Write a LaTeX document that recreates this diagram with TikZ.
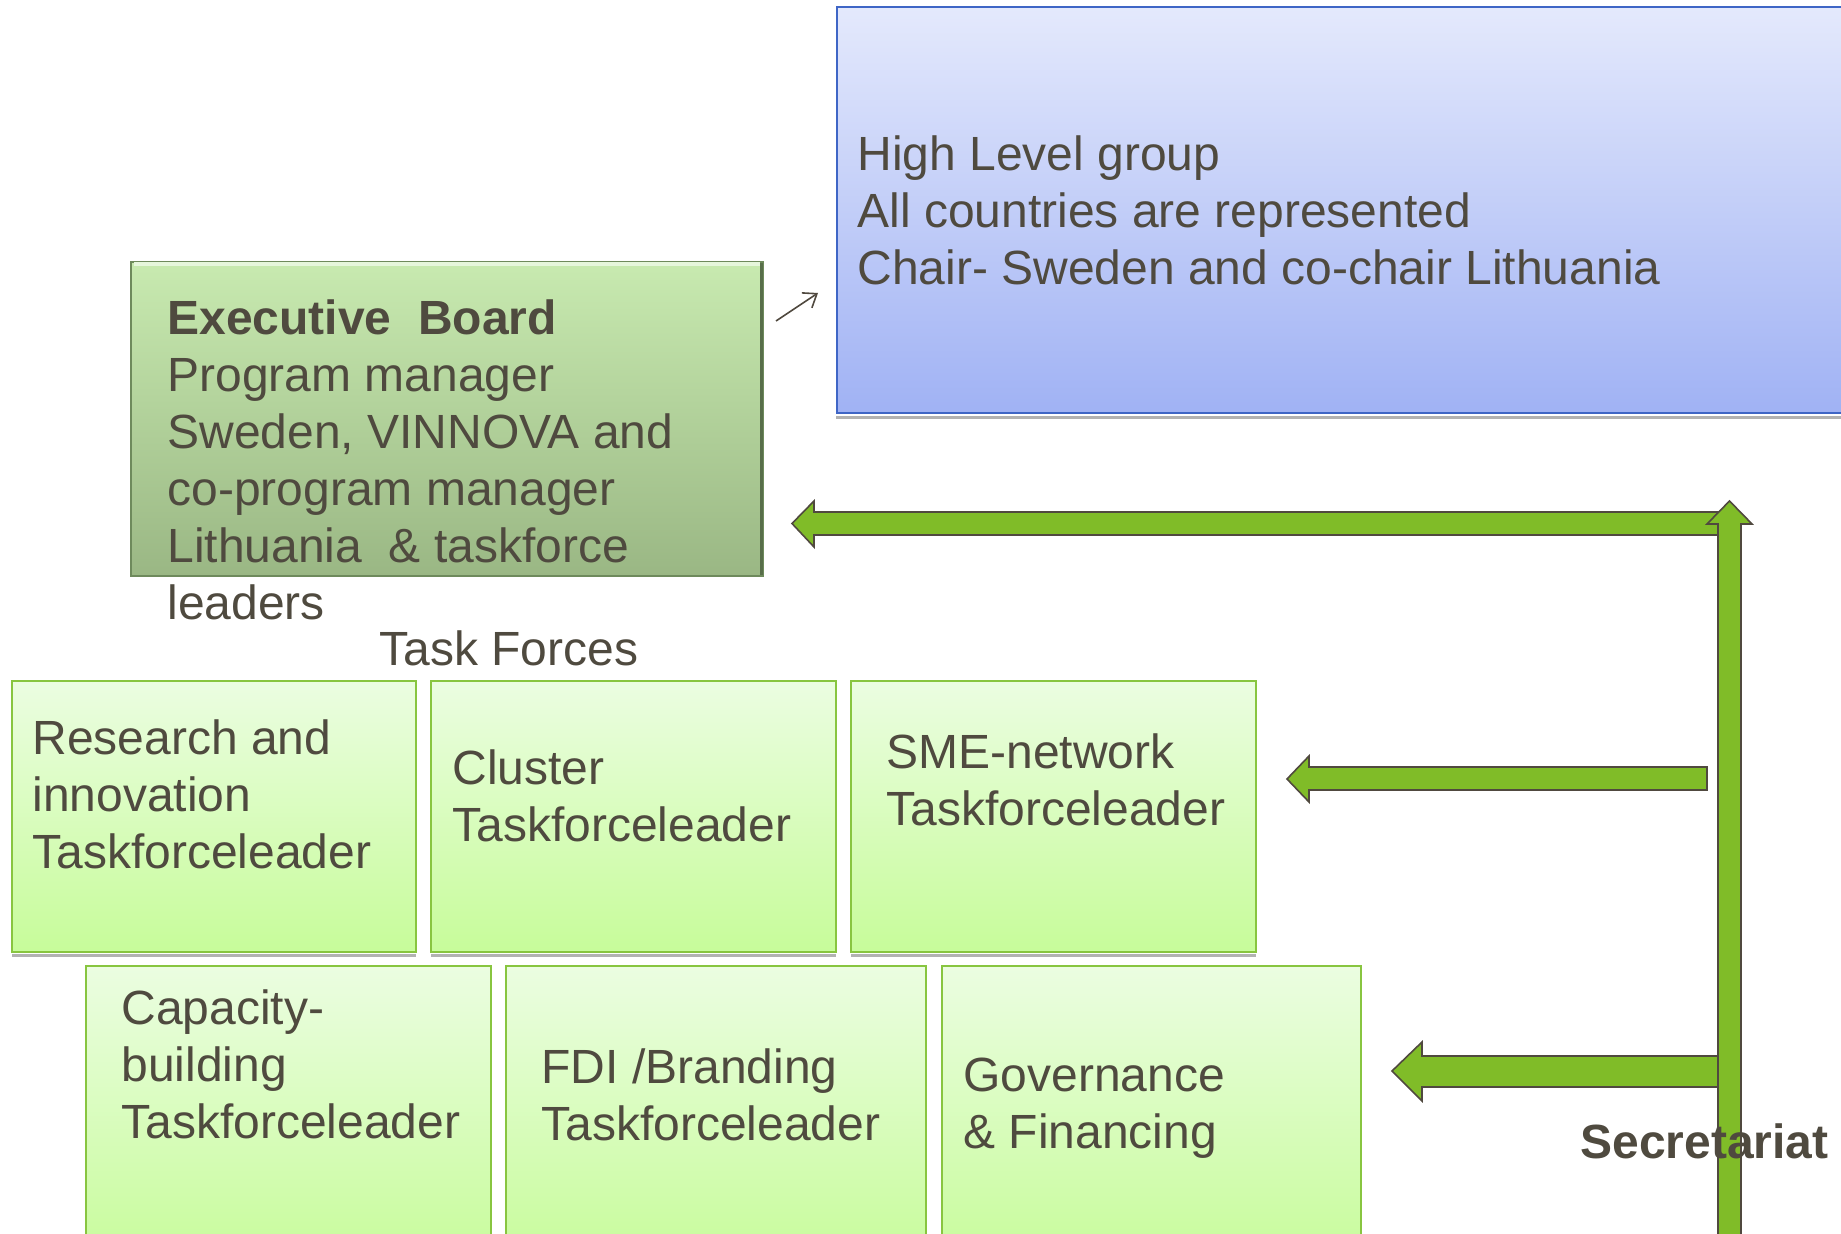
\documentclass[tikz,border=0pt]{standalone}
\usepackage{fontspec}
\usetikzlibrary{arrows.meta}
\setmainfont{Liberation Sans}
\definecolor{scritta}{HTML}{4F4A3F}
\definecolor{tfalto}{HTML}{EBFDE1}
\definecolor{tfbasso}{HTML}{C7FC9A}
\definecolor{tfbordo}{HTML}{88C540}
\definecolor{ebalto}{HTML}{C8EAB0}
\definecolor{ebbasso}{HTML}{9AB784}
\definecolor{ebbordo}{HTML}{6E8A5C}
\definecolor{hlalto}{HTML}{E4E9FC}
\definecolor{hlbasso}{HTML}{A0B2F4}
\definecolor{hlbordo}{HTML}{3F66C6}
\definecolor{freccia}{HTML}{80BC28}
\definecolor{frecciabordo}{HTML}{50493F}
\tikzset{
  tfbox/.style={draw=tfbordo, line width=1pt, top color=tfalto, bottom color=tfbasso,
    minimum height=135.5pt, anchor=north west, inner sep=0pt, outer sep=0pt},
  tfbox2/.style={tfbox, minimum height=150pt},
  testo/.style={anchor=north west, inner sep=0pt, align=left},
  ombra/.style={draw=gray!60, line width=1.4pt},
  blocco/.style={fill=freccia, draw=frecciabordo, line width=0.8pt, line join=miter}
}
\begin{document}
\begin{tikzpicture}[x=0.5pt, y=-0.5pt, font=\fontsize{24}{28.5}\selectfont, text=scritta]
  \useasboundingbox (0,0) rectangle (1841,1234);
  \clip (0,0) rectangle (1841,1234);
  % Gruppo di alto livello
  \node[draw=hlbordo, line width=1pt, top color=hlalto, bottom color=hlbasso,
    minimum width=532pt, minimum height=203pt, anchor=north west, inner sep=0pt] (hl) at (836,6) {};
  \draw[ombra] ([yshift=-1.6pt]hl.south west) -- ([yshift=-1.6pt]hl.south east);
  \node[testo] (hltesto) at (857,130) {\strut High Level group\\All countries are represented\\Chair- Sweden and co-chair Lithuania};
  % Executive Board
  \node[draw=ebbordo, line width=1pt, top color=ebalto, bottom color=ebbasso,
    minimum width=316pt, minimum height=157pt, anchor=north west, inner sep=0pt] (eb) at (130,261) {};
  \draw[white!55!ebalto, line width=2pt] ([shift={(2pt,-1.5pt)}]eb.north west) -- ([shift={(-2pt,-1.5pt)}]eb.north east);
  \draw[ebbordo!80!black, line width=1.5pt] ([shift={(-1.2pt,-1pt)}]eb.north east) -- ([shift={(-1.2pt,1pt)}]eb.south east);
  \node[testo] (ebtesto) at (167,294) {\strut\textbf{Executive~ Board}\\Program manager\\Sweden, VINNOVA and\\co-program manager\\Lithuania~ \& taskforce\\leaders};
  % freccia sottile
  \coordinate (p1) at (776,321);
  \coordinate (p2) at (818,293);
  \draw[-{Straight Barb[length=6pt,width=9pt]}, draw=frecciabordo, line width=0.8pt] (p1) -- (p2);
  \node[anchor=base west, inner sep=0pt] (tf) at (379,666) {Task Forces};
  % Task forces, prima riga
  \node[tfbox, minimum width=202pt] (rs) at (12,681) {};
  \node[tfbox, minimum width=202.5pt] (cl) at (431,681) {};
  \node[tfbox, minimum width=202.5pt] (sme) at (851,681) {};
  \foreach \b in {rs,cl,sme}
    \draw[ombra] ([yshift=-1.6pt]\b.south west) -- ([yshift=-1.6pt]\b.south east);
  \node[testo] (rstesto) at (32,714) {\strut Research and\\innovation\\Taskforceleader};
  \node[testo] (cltesto) at (452,744) {\strut Cluster\\Taskforceleader};
  \node[testo] (smetesto) at (886,728) {\strut SME-network\\Taskforceleader};
  % Task forces, seconda riga
  \node[tfbox2, minimum width=202.5pt] (cb) at (86,966) {};
  \node[tfbox2, minimum width=210pt] (fdi) at (506,966) {};
  \node[tfbox2, minimum width=209.5pt] (gf) at (942,966) {};
  \node[testo] (cbtesto) at (121,984) {\strut Capacity-\\building\\Taskforceleader};
  \node[testo] (fditesto) at (541,1043) {\strut FDI /Branding\\Taskforceleader};
  \node[testo] (gftesto) at (963,1051) {\strut Governance\\\& Financing};
  % frecce a blocco
  \draw[blocco] (792,523.5) -- (814,501) -- (814,512) -- (1718,512) -- (1718,535) -- (814,535) -- (814,547) -- cycle;
  \draw[blocco] (1287,779) -- (1309,756) -- (1309,767) -- (1707,767) -- (1707,790) -- (1309,790) -- (1309,802) -- cycle;
  \draw[blocco] (1392,1071) -- (1422,1042) -- (1422,1056) -- (1718,1056) -- (1718,1087) -- (1422,1087) -- (1422,1101) -- cycle;
  \draw[blocco] (1729.5,501) -- (1752,524) -- (1741,524) -- (1741,1260) -- (1718,1260) -- (1718,524) -- (1707,524) -- cycle;
  \node[anchor=base west, inner sep=0pt, font=\fontsize{24}{28.5}\selectfont\bfseries] (sec) at (1580,1158) {Secretariat};
\end{tikzpicture}
\end{document}
